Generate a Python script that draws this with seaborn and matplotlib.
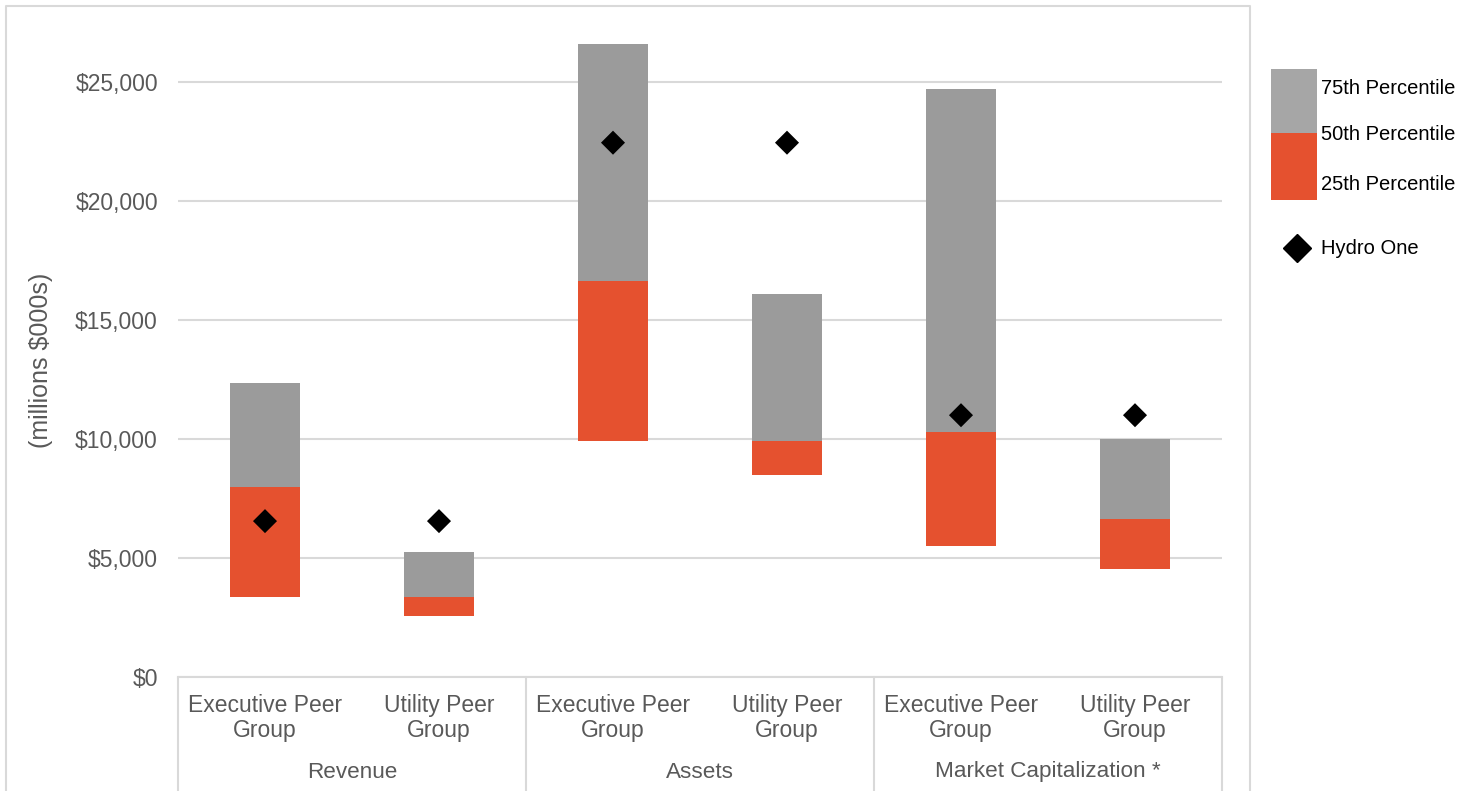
import matplotlib
matplotlib.use("Agg")
import matplotlib.pyplot as plt
from matplotlib.patches import Rectangle
from matplotlib.lines import Line2D
from matplotlib.ticker import FuncFormatter
import numpy as np
import pandas as pd
import seaborn as sns

# Peer group percentiles and Hydro One values (millions $000s)
metrics = ["Revenue", "Revenue", "Assets", "Assets",
           "Market Capitalization *", "Market Capitalization *"]
groups = ["Executive Peer\nGroup", "Utility Peer\nGroup"] * 3
p25 = [3350, 2550, 9900, 8500, 5500, 4550]
p50 = [8000, 3350, 16650, 9900, 10300, 6650]
p75 = [12350, 5250, 26600, 16100, 24700, 10000]
hydro_one = [6550, 6550, 22450, 22450, 11000, 11000]
group_names = ["Revenue", "Assets", "Market Capitalization *"]

RED = "#E5512F"
GRAY = "#9B9B9B"
GRAY_LEGEND = "#A6A6A6"
GRID = "#D9D9D9"
TEXT = "#595959"

df = pd.DataFrame({
    "key": [f"{m}|{g}" for m, g in zip(metrics, groups)],
    "p25": p25, "p50": p50, "p75": p75, "hydro": hydro_one,
})
df["low"] = df["p50"] - df["p25"]
df["high"] = df["p75"] - df["p50"]

sns.set_theme(style="white")
plt.rcParams["font.family"] = ["Liberation Sans", "DejaVu Sans"]

W, H = 1466, 791
fig = plt.figure(figsize=(W / 100, H / 100), dpi=100)
ax_left, ax_right = 178, 1222
y0_px, ytop_px = 677, 22.5
ax = fig.add_axes([ax_left / W, (H - y0_px) / H,
                   (ax_right - ax_left) / W, (y0_px - ytop_px) / H])

order = list(df["key"])
bar_w = 70 / 174
sns.barplot(data=df, x="key", y="low", bottom=df["p25"].values, order=order,
            color=RED, width=bar_w, saturation=1, ax=ax, linewidth=0, zorder=3)
sns.barplot(data=df, x="key", y="high", bottom=df["p50"].values, order=order,
            color=GRAY, width=bar_w, saturation=1, ax=ax, linewidth=0, zorder=3)
sns.scatterplot(data=df, x="key", y="hydro", marker="D", s=150, color="black",
                edgecolor="none", ax=ax, zorder=5, legend=False)

ax.set_xlim(-0.5, len(order) - 0.5)
ax.set_ylim(0, 27500)
ax.set_yticks(np.arange(0, 25001, 5000))
ax.yaxis.set_major_formatter(FuncFormatter(lambda v, p: f"${v:,.0f}"))
ax.yaxis.grid(True, color=GRID, linewidth=1.5, zorder=0)
ax.set_axisbelow(True)
for s in ["top", "right", "left"]:
    ax.spines[s].set_visible(False)
ax.spines["bottom"].set_color(GRID)
ax.spines["bottom"].set_linewidth(1.5)

ax.set_xlabel("")
ax.set_ylabel("")
ax.set_xticks(range(len(order)))
ax.set_xticklabels(groups, linespacing=1.08)
ax.tick_params(axis="x", length=0, pad=12.5, labelsize=16.5, labelcolor=TEXT)
ax.tick_params(axis="y", length=0, pad=14.5, labelsize=16.5, labelcolor=TEXT)

# Category group labels and separators below the axis
xt = ax.get_xaxis_transform()
ax_h_px = y0_px - ytop_px
for i, name in enumerate(group_names):
    ax.text(2 * i + 0.5, -(772 - y0_px) / ax_h_px, name, transform=xt,
            ha="center", va="center", fontsize=16.2, color=TEXT)
for xb in [-0.5, 1.5, 3.5, 5.5]:
    ax.plot([xb, xb], [0, -(H - y0_px) / ax_h_px], transform=xt,
            color=GRID, linewidth=1.5, clip_on=False)

fig.text(41 / W, 1 - 360 / H, "(millions $000s)", rotation=90,
         ha="center", va="center", fontsize=18, color=TEXT)

# Outer chart frame
frame = Line2D([6 / W, 6 / W, 1250 / W, 1250 / W],
               [0, 1 - 6 / H, 1 - 6 / H, 0],
               transform=fig.transFigure, color=GRID, linewidth=1.5)
fig.add_artist(frame)

# Legend: stacked swatch with percentile labels, plus Hydro One marker
def fy(py):
    return 1 - py / H

fig.add_artist(Rectangle((1271 / W, fy(133)), 46 / W, 64 / H,
                         transform=fig.transFigure, color=GRAY_LEGEND, lw=0))
fig.add_artist(Rectangle((1271 / W, fy(200)), 46 / W, 67 / H,
                         transform=fig.transFigure, color=RED, lw=0))
for label, py in [("75th Percentile", 88), ("50th Percentile", 134),
                  ("25th Percentile", 185), ("Hydro One", 248)]:
    fig.text(1321 / W, fy(py), label, ha="left", va="center",
             fontsize=14.5, color="black")
fig.add_artist(Line2D([1297 / W], [fy(248)], transform=fig.transFigure,
                      marker="D", markersize=14, color="black", linestyle="none"))

fig.savefig("out.png", dpi=100)
